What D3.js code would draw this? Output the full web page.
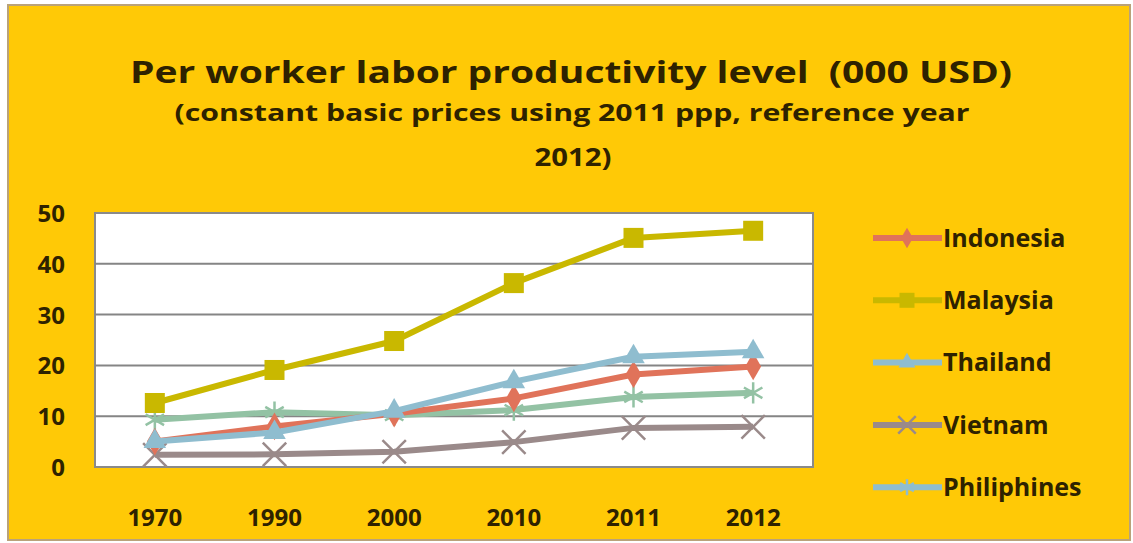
<!DOCTYPE html>
<html>
<head>
<meta charset="utf-8">
<script src="https://cdn.jsdelivr.net/npm/d3@7"></script>
<style>
  body { margin: 0; background: #fff; }
  text { font-family: "Open Sans", "DejaVu Sans", sans-serif; font-weight: bold; fill: #2e2200; white-space: pre; }
</style>
</head>
<body>
<div id="chart"></div>
<script>
const years = ["1970", "1990", "2000", "2010", "2011", "2012"];
const countries = ["Indonesia", "Malaysia", "Thailand", "Vietnam", "Philiphines"];
const indonesia = [5.0, 8.0, 10.5, 13.5, 18.2, 19.8];
const malaysia = [12.6, 19.1, 24.8, 36.2, 45.1, 46.5];
const thailand = [5.0, 6.8, 11.0, 16.8, 21.7, 22.7];
const vietnam = [2.4, 2.5, 3.0, 4.9, 7.7, 7.9];
const philippines = [9.3, 10.8, 10.2, 11.2, 13.8, 14.6];
const yTicks = [0, 10, 20, 30, 40, 50];

const series = [
  { name: countries[0], values: indonesia, color: "#e0735a", marker: "diamond" },
  { name: countries[1], values: malaysia, color: "#c9b800", marker: "square" },
  { name: countries[2], values: thailand, color: "#8fbdcf", marker: "triangle" },
  { name: countries[3], values: vietnam, color: "#9a8a8a", marker: "x" },
  { name: countries[4], values: philippines, color: "#93c2a4", marker: "star" }
];
const legendColors = ["#e0735a", "#c9b800", "#8fbdcf", "#9a8a8a", "#8fbdcf"];

const W = 1133, H = 543;
const svg = d3.select("#chart").append("svg").attr("width", W).attr("height", H);

// outer chart frame
svg.append("rect").attr("x", 8).attr("y", 5).attr("width", 1122).attr("height", 535)
  .attr("fill", "#ffc906").attr("stroke", "#b9a27a").attr("stroke-width", 2);

// titles
svg.append("text").attr("x", 571).attr("y", 83).attr("text-anchor", "middle")
  .attr("font-size", 31).attr("textLength", 882).attr("lengthAdjust", "spacingAndGlyphs")
  .text("Per worker labor productivity level  (000 USD)");
svg.append("text").attr("x", 572).attr("y", 121).attr("text-anchor", "middle")
  .attr("font-size", 24).attr("textLength", 795).attr("lengthAdjust", "spacingAndGlyphs")
  .text("(constant basic prices using 2011 ppp, reference year");
svg.append("text").attr("x", 573).attr("y", 166).attr("text-anchor", "middle")
  .attr("font-size", 25).attr("textLength", 77).attr("lengthAdjust", "spacingAndGlyphs")
  .text("2012)");

const plot = { left: 95, right: 813, top: 213, bottom: 467 };

const x = d3.scaleBand().domain(years).range([plot.left, plot.right]);
const y = d3.scaleLinear().domain([0, 50]).range([plot.bottom, plot.top]);

svg.append("rect").attr("x", plot.left).attr("y", plot.top)
  .attr("width", plot.right - plot.left).attr("height", plot.bottom - plot.top)
  .attr("fill", "#fff").attr("stroke", "#8a8a8a").attr("stroke-width", 2);

// grid lines
svg.append("g").selectAll("line").data(yTicks.filter(d => d > 0 && d < 50)).enter()
  .append("line")
  .attr("x1", plot.left).attr("x2", plot.right)
  .attr("y1", d => y(d)).attr("y2", d => y(d))
  .attr("stroke", "#858585").attr("stroke-width", 2);

// axes
const yAxis = svg.append("g").attr("transform", `translate(${plot.left - 30},0)`)
  .call(d3.axisLeft(y).tickValues(yTicks).tickSize(0));
yAxis.select(".domain").remove();
yAxis.selectAll("text").attr("x", 0).attr("dy", "0.35em").attr("text-anchor", "end")
  .style("font-size", "24px").style("font-family", "Open Sans").style("font-weight", "bold").attr("fill", "#2e2200");

const xAxis = svg.append("g").attr("transform", `translate(0,${plot.bottom})`)
  .call(d3.axisBottom(x).tickSize(0));
xAxis.select(".domain").remove();
xAxis.selectAll("text").attr("y", 42)
  .style("font-size", "24px").style("font-family", "Open Sans").style("font-weight", "bold").attr("fill", "#2e2200");

const cx = d => x(d) + x.bandwidth() / 2;

function drawMarker(g, type, color, size) {
  const s = size;
  if (type === "diamond") {
    g.append("path").attr("d", d3.symbol(d3.symbolDiamond, s * s * 0.55)()).attr("fill", color);
  } else if (type === "square") {
    g.append("rect").attr("x", -s / 2).attr("y", -s / 2).attr("width", s).attr("height", s).attr("fill", color);
  } else if (type === "triangle") {
    g.append("path").attr("d", d3.symbol(d3.symbolTriangle, s * s * 0.55)()).attr("fill", color);
  } else if (type === "x") {
    g.append("path").attr("d", d3.symbol(d3.symbolTimes, s * s * 0.9)())
      .attr("fill", "none").attr("stroke", color).attr("stroke-width", 2.5);
  } else if (type === "star") {
    g.append("path").attr("d", d3.symbol(d3.symbolAsterisk, s * s * 0.8)())
      .attr("fill", "none").attr("stroke", color).attr("stroke-width", 2.5);
  }
}

const line = d3.line().x((d, i) => cx(years[i])).y(d => y(d));

// lower series first so the upper lines overlap them like the original
const drawOrder = [3, 4, 0, 2, 1];
drawOrder.forEach(k => {
  const s = series[k];
  svg.append("path").datum(s.values).attr("d", line)
    .attr("fill", "none").attr("stroke", s.color).attr("stroke-width", 6)
    .attr("stroke-linejoin", "round");
  s.values.forEach((v, i) => {
    const g = svg.append("g").attr("transform", `translate(${cx(years[i])},${y(v)})`);
    drawMarker(g, s.marker, s.color, 20);
  });
});

// legend
const legend = svg.append("g");
series.forEach((s, i) => {
  const ly = 238 + i * 62.3;
  const g = legend.append("g").attr("transform", `translate(0,${ly})`);
  g.append("line").attr("x1", 873).attr("x2", 942).attr("y1", 0).attr("y2", 0)
    .attr("stroke", legendColors[i]).attr("stroke-width", 6);
  const m = g.append("g").attr("transform", "translate(907,0)");
  drawMarker(m, s.marker, legendColors[i], 15);
  g.append("text").attr("x", 943).attr("y", 0).attr("dy", "0.35em")
    .attr("font-size", 25).text(s.name);
});
</script>
</body>
</html>
